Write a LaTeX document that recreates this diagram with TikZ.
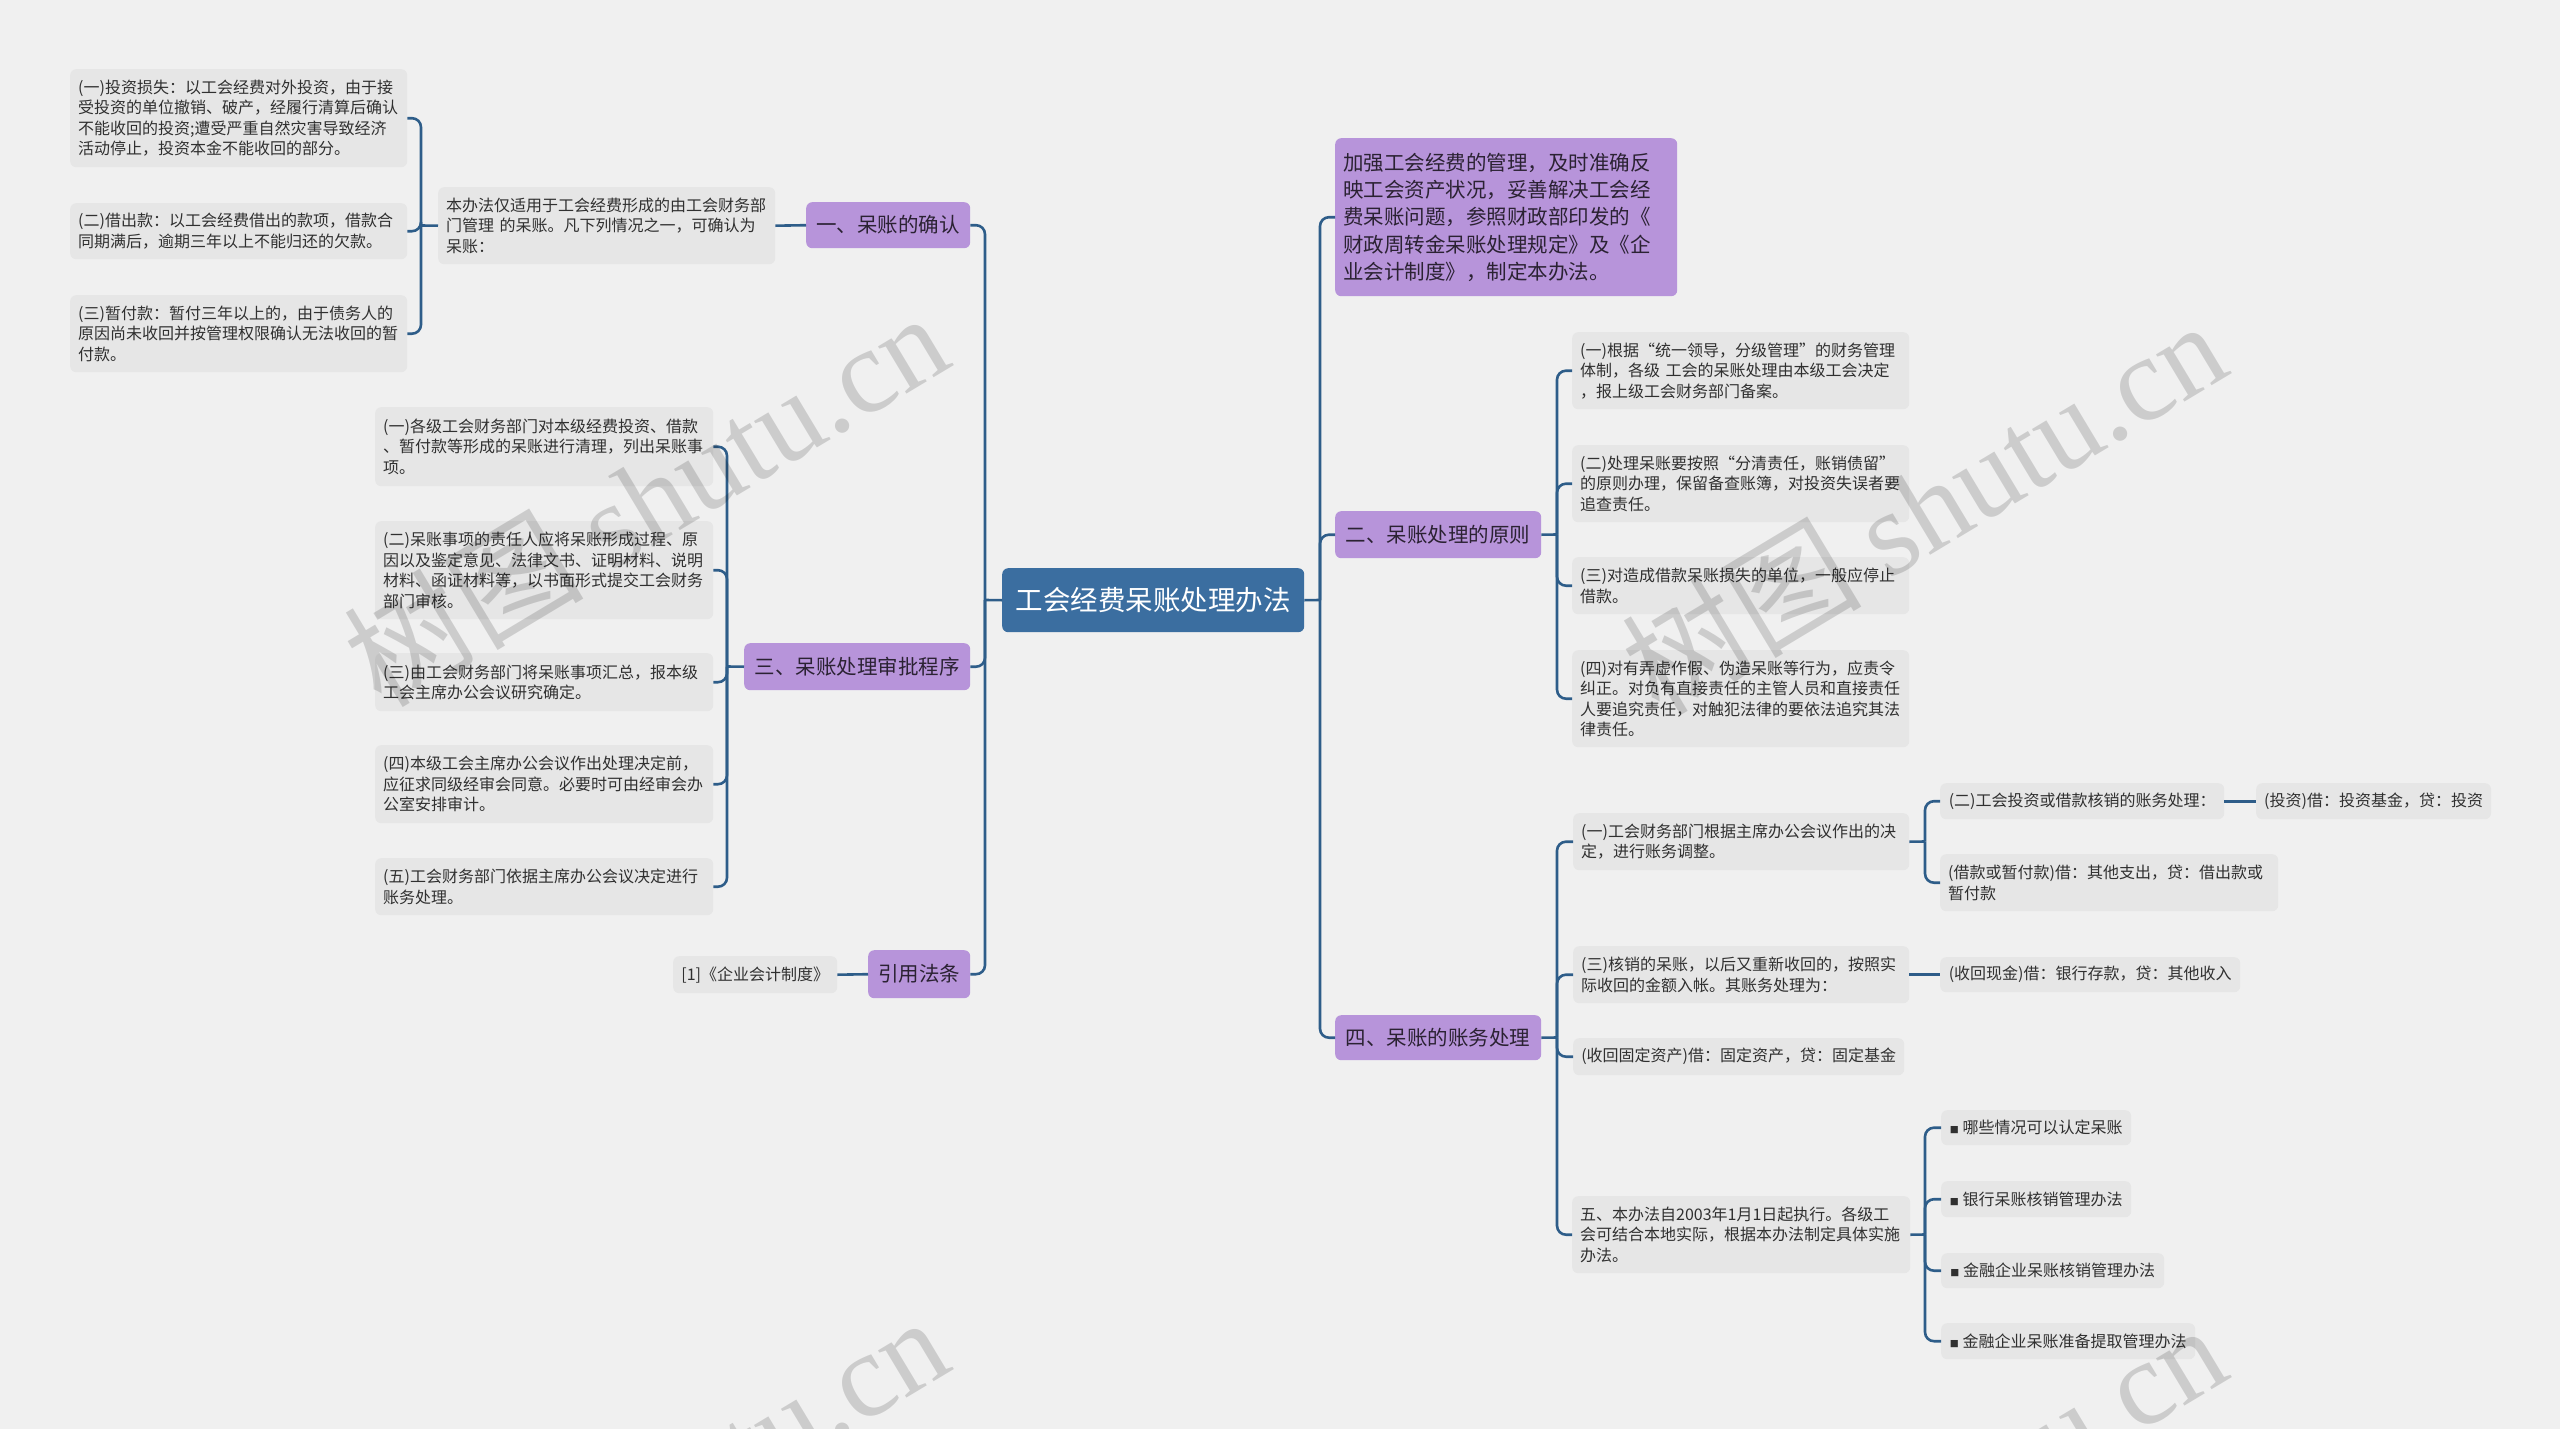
\documentclass[tikz,border=0pt]{standalone}
\usepackage{fontspec}
\setmainfont{Noto Sans CJK SC}
\newfontfamily\wmlatin{Liberation Serif}
\definecolor{bgc}{HTML}{F0F0F0}
\definecolor{leafc}{HTML}{E6E6E6}
\definecolor{purp}{HTML}{B794DA}
\definecolor{cenc}{HTML}{3B6EA0}
\definecolor{linkc}{HTML}{2E5D89}
\definecolor{txtc}{HTML}{303030}
\definecolor{ptxt}{HTML}{2B2233}
\newcommand\mmbox[7]{%
  \pgfmathsetmacro\mmW{#5-#3}\pgfmathsetmacro\mmH{#6-#4}\pgfmathsetmacro\mmT{#5-#3-16}%
  \node[#1, minimum width=\mmW pt, minimum height=\mmH pt, text width=\mmT pt] (#2) at (#3,#4) {#7};}
\newcommand\mmone[7]{%
  \pgfmathsetmacro\mmW{#5-#3}\pgfmathsetmacro\mmH{#6-#4}%
  \node[#1, minimum width=\mmW pt, minimum height=\mmH pt] (#2) at (#3,#4) {#7};}
\tikzset{
  base/.style={anchor=north west, rounded corners=6pt, inner xsep=8pt, inner ysep=0pt, align=left},
  leaf/.style={base, fill=leafc, text=txtc, font=\fontsize{16pt}{20.5pt}\selectfont},
  topic/.style={base, fill=purp, text=ptxt, font=\fontsize{20.5pt}{27.3pt}\selectfont},
  rootnode/.style={base, fill=cenc, text=white, align=center, font=\fontsize{27.5pt}{32pt}\selectfont},
  link/.style={draw=linkc, line width=2.6pt, rounded corners=9pt},
  wm/.style={text=black, text opacity=0.15, rotate=31, inner sep=0pt, font=\fontsize{120pt}{130pt}\selectfont},
}
\newcommand\mmbul{{\fontsize{9pt}{9pt}\selectfont ■}\ }
\begin{document}
\begin{tikzpicture}[x=1pt,y=-1pt]
\fill[bgc] (0,0) rectangle (2560,1429);
\useasboundingbox (0,0) rectangle (2560,1429);

% root
\mmone{rootnode}{root}{1002}{568}{1304}{632}{工会经费呆账处理办法}

% left: branch 1
\mmone{topic}{L1}{806}{202}{970}{248}{一、呆账的确认}
\mmbox{leaf}{L1c}{438}{187}{775}{264}{本办法仅适用于工会经费形成的由工会财务部\\门管理 的呆账。凡下列情况之一，可确认为\\呆账：}
\mmbox{leaf}{L1a}{70}{69}{407}{167}{(一)投资损失：以工会经费对外投资，由于接\\受投资的单位撤销、破产，经履行清算后确认\\不能收回的投资;遭受严重自然灾害导致经济\\活动停止，投资本金不能收回的部分。}
\mmbox{leaf}{L1b}{70}{203}{407}{259}{(二)借出款：以工会经费借出的款项，借款合\\同期满后，逾期三年以上不能归还的欠款。}
\mmbox{leaf}{L1d}{70}{295}{407}{372}{(三)暂付款：暂付三年以上的，由于债务人的\\原因尚未收回并按管理权限确认无法收回的暂\\付款。}

% left: branch 3
\mmone{topic}{L3}{744}{643}{970}{690}{三、呆账处理审批程序}
\mmbox{leaf}{L3a}{375}{407}{713}{486}{(一)各级工会财务部门对本级经费投资、借款\\、暂付款等形成的呆账进行清理，列出呆账事\\项。}
\mmbox{leaf}{L3b}{375}{521}{713}{619}{(二)呆账事项的责任人应将呆账形成过程、原\\因以及鉴定意见、法律文书、证明材料、说明\\材料、函证材料等，以书面形式提交工会财务\\部门审核。}
\mmbox{leaf}{L3c}{375}{653}{713}{711}{(三)由工会财务部门将呆账事项汇总，报本级\\工会主席办公会议研究确定。}
\mmbox{leaf}{L3d}{375}{745}{713}{823}{(四)本级工会主席办公会议作出处理决定前，\\应征求同级经审会同意。必要时可由经审会办\\公室安排审计。}
\mmbox{leaf}{L3e}{375}{858}{713}{915}{(五)工会财务部门依据主席办公会议决定进行\\账务处理。}

% left: citations
\mmone{topic}{L4}{868}{950}{970}{998}{引用法条}
\mmone{leaf}{L4a}{673}{956}{837}{993}{[1]《企业会计制度》}

% right: intro
\mmbox{topic}{R0}{1335}{138}{1677}{296}{加强工会经费的管理，及时准确反\\映工会资产状况，妥善解决工会经\\费呆账问题，参照财政部印发的《\\财政周转金呆账处理规定》及《企\\业会计制度》，制定本办法。}

% right: branch 2
\mmone{topic}{R2}{1335}{511}{1541}{558}{二、呆账处理的原则}
\mmbox{leaf}{R2a}{1572}{332}{1909}{409}{(一)根据“统一领导，分级管理”的财务管理\\体制，各级 工会的呆账处理由本级工会决定\\，报上级工会财务部门备案。}
\mmbox{leaf}{R2b}{1572}{445}{1909}{522}{(二)处理呆账要按照“分清责任，账销债留”\\的原则办理，保留备查账簿，对投资失误者要\\追查责任。}
\mmbox{leaf}{R2c}{1572}{557}{1909}{614}{(三)对造成借款呆账损失的单位，一般应停止\\借款。}
\mmbox{leaf}{R2d}{1572}{650}{1909}{747}{(四)对有弄虚作假、伪造呆账等行为，应责令\\纠正。对负有直接责任的主管人员和直接责任\\人要追究责任，对触犯法律的要依法追究其法\\律责任。}

% right: branch 4
\mmone{topic}{R4}{1335}{1015}{1541}{1060}{四、呆账的账务处理}
\mmbox{leaf}{R4a}{1573}{813}{1909}{870}{(一)工会财务部门根据主席办公会议作出的决\\定，进行账务调整。}
\mmone{leaf}{R4a1}{1940}{783}{2224}{819}{(二)工会投资或借款核销的账务处理：}
\mmone{leaf}{R4a1x}{2256}{783}{2490}{819}{(投资)借：投资基金，贷：投资}
\mmbox{leaf}{R4a2}{1940}{854}{2278}{911}{(借款或暂付款)借：其他支出，贷：借出款或\\暂付款}
\mmbox{leaf}{R4b}{1573}{946}{1909}{1003}{(三)核销的呆账，以后又重新收回的，按照实\\际收回的金额入帐。其账务处理为：}
\mmone{leaf}{R4b1}{1940}{957}{2240}{992}{(收回现金)借：银行存款，贷：其他收入}
\mmone{leaf}{R4c}{1573}{1038}{1904}{1075}{(收回固定资产)借：固定资产，贷：固定基金}
\mmbox{leaf}{R4d}{1572}{1196}{1910}{1273}{五、本办法自2003年1月1日起执行。各级工\\会可结合本地实际，根据本办法制定具体实施\\办法。}
\mmone{leaf}{R4d1}{1941}{1110}{2131}{1145}{\mmbul 哪些情况可以认定呆账}
\mmone{leaf}{R4d2}{1941}{1181}{2131}{1217}{\mmbul 银行呆账核销管理办法}
\mmone{leaf}{R4d3}{1941}{1253}{2164}{1288}{\mmbul 金融企业呆账核销管理办法}
\mmone{leaf}{R4d4}{1941}{1323}{2195}{1359}{\mmbul 金融企业呆账准备提取管理办法}

% connectors
\coordinate (jL) at (985,600);
\coordinate (jR) at (1320,600);
\draw[link] (root.west) -- (jL);
\draw[link] (root.east) -- (jR);
\foreach \n in {L1,L3,L4} \draw[link] (jL) |- (\n.east);
\foreach \n in {R0,R2,R4} \draw[link] (jR) |- (\n.west);

\draw[link] (L1.west) -- (L1c.east);
\coordinate (jL1) at (421,225.5);
\draw[link] (L1c.west) -- (jL1);
\foreach \n in {L1a,L1b,L1d} \draw[link] (jL1) |- (\n.east);

\coordinate (jL3) at (727,666.5);
\draw[link] (L3.west) -- (jL3);
\foreach \n in {L3a,L3b,L3c,L3d,L3e} \draw[link] (jL3) |- (\n.east);

\draw[link] (L4.west) -- (L4a.east);

\coordinate (jR2) at (1557,534.5);
\draw[link] (R2.east) -- (jR2);
\foreach \n in {R2a,R2b,R2c,R2d} \draw[link] (jR2) |- (\n.west);

\coordinate (jR4) at (1557,1037.5);
\draw[link] (R4.east) -- (jR4);
\foreach \n in {R4a,R4b,R4c,R4d} \draw[link] (jR4) |- (\n.west);

\coordinate (jR4a) at (1925,841.5);
\draw[link] (R4a.east) -- (jR4a);
\foreach \n in {R4a1,R4a2} \draw[link] (jR4a) |- (\n.west);
\draw[link] (R4a1.east) -- (R4a1x.west);
\draw[link] (R4b.east) -- (R4b1.west);

\coordinate (jR4d) at (1925,1234.5);
\draw[link] (R4d.east) -- (jR4d);
\foreach \n in {R4d1,R4d2,R4d3,R4d4} \draw[link] (jR4d) |- (\n.west);

% watermarks
\begin{scope}
\clip (0,0) rectangle (2560,1429);
\node[wm] (wm1) at (645,498) {树图 {\wmlatin shutu.cn}};
\node[wm] (wm2) at (1923,506) {树图 {\wmlatin shutu.cn}};
\node[wm] (wm3) at (645,1502) {树图 {\wmlatin shutu.cn}};
\node[wm] (wm4) at (1923,1510) {树图 {\wmlatin shutu.cn}};
\end{scope}
\end{tikzpicture}
\end{document}
